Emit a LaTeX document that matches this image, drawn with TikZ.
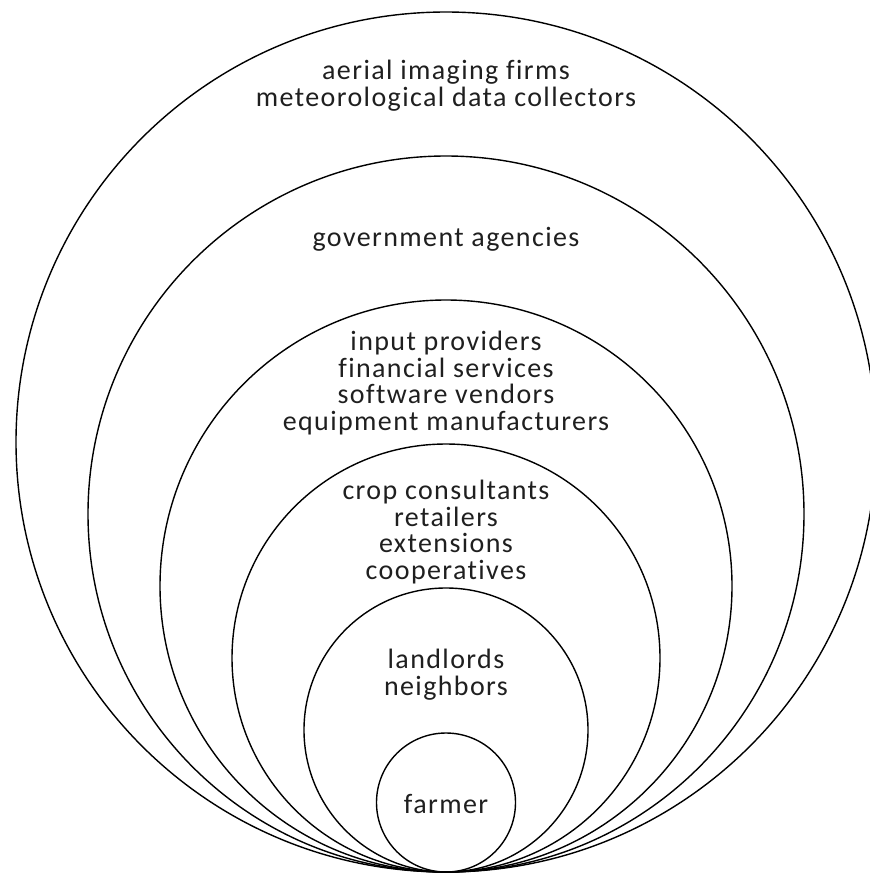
\documentclass[tikz,border=0pt]{standalone}
\usepackage{fontspec}
\setmainfont{Carlito}[LetterSpace=5, Ligatures={NoCommon}]
\begin{document}
\begin{tikzpicture}[x=1pt,y=-1pt,
  ring/.style={circle, draw=black, line width=1.4pt, inner sep=0pt},
  label/.style={align=center, text=black!88, inner sep=0pt,
    font=\fontsize{28}{26.7}\selectfont}]
  \useasboundingbox (0,0) rectangle (870,873);
  \clip (0,0) rectangle (870,873);
  % nested circles, all touching at the bottom point
  \node[ring, minimum size=860pt] (outer)  at (446,442) {};
  \node[ring, minimum size=716pt] (gov)    at (446,514) {};
  \node[ring, minimum size=572pt] (input)  at (446,586) {};
  \node[ring, minimum size=428pt] (crop)   at (446,658) {};
  \node[ring, minimum size=284pt] (land)   at (446,730) {};
  \node[ring, minimum size=139pt] (farm)   at (446,802.5) {};
  % labels
  \node[label] (t1) at (446,86) {aerial imaging firms\\meteorological data collectors};
  \node[label] (t2) at (446,239) {government agencies};
  \node[label] (t3) at (446,383) {input providers\\financial services\\software vendors\\equipment manufacturers};
  \node[label] (t4) at (446,532) {crop consultants\\retailers\\extensions\\cooperatives};
  \node[label] (t5) at (446,675) {landlords\\neighbors};
  \node[label] (t6) at (446,804) {farmer};
\end{tikzpicture}
\end{document}
